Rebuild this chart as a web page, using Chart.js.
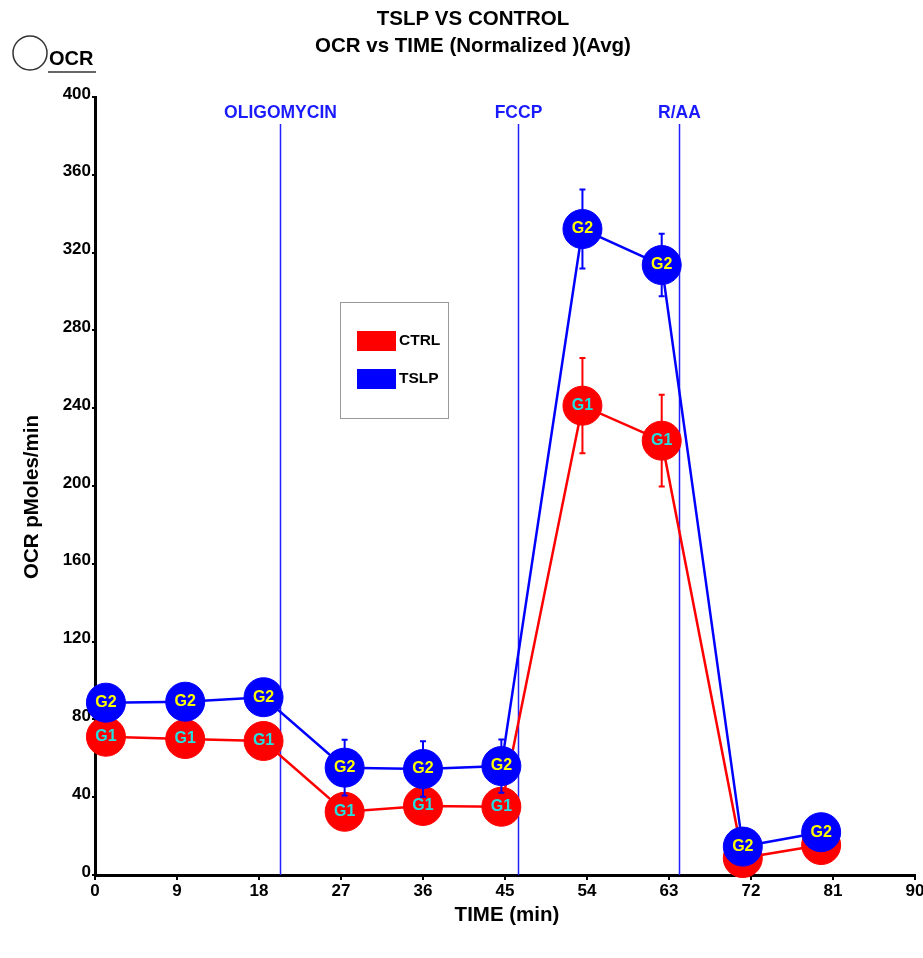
<!DOCTYPE html>
<html>
<head>
<meta charset="utf-8">
<script src="https://cdn.jsdelivr.net/npm/chart.js@4"></script>
<style>
  html, body { margin: 0; padding: 0; background: #fff; }
  #wrap { width: 923px; height: 958px; position: relative; }
</style>
</head>
<body>
<div id="wrap"><canvas id="ocrChart"></canvas></div>
<script>
// measurement times (min)
const times = [1.2, 9.9, 18.5, 27.4, 36.0, 44.6, 53.5, 62.2, 71.1, 79.7];
// OCR (pMoles/min), normalized averages
const ctrlOcr = [71.1, 69.9, 68.9, 32.5, 35.5, 35.1, 241.3, 223.3, 8.7, 15.4];
const tslpOcr = [88.6, 89.1, 91.4, 55.2, 54.5, 56.0, 332.1, 313.6, 14.6, 22.0];
const ctrlErr = [3, 3, 3, 4, 4, 4, 24.5, 23.6, 3, 3];
const tslpErr = [3, 3, 3, 14.3, 14.3, 13.7, 20.3, 16.1, 3, 3];

const seriesNames = ["CTRL", "TSLP"];
const groupTags = ["G1", "G2"];

// injections
const injectionNames = ["OLIGOMYCIN", "FCCP", "R/AA"];
const injectionTimes = [20.3, 46.4, 64.1];

const xTicks = [0, 9, 18, 27, 36, 45, 54, 63, 72, 81, 90];
const yTicks = [0, 40, 80, 120, 160, 200, 240, 280, 320, 360, 400];

const FONT = "'Liberation Sans', Arial, sans-serif";
const RED = "#ff0000";
const BLUE = "#0000ff";

function toPoints(ys) {
  return times.map((t, i) => ({ x: t, y: ys[i] }));
}

const errors = [ctrlErr, tslpErr];
const tagColors = ["#22e0e0", "#ffff00"];

const decorPlugin = {
  id: "decor",
  beforeDatasetsDraw(chart) {
    const ctx = chart.ctx;
    const xs = chart.scales.x;
    const area = chart.chartArea;
    ctx.save();
    ctx.strokeStyle = "#2222ff";
    ctx.lineWidth = 1.5;
    ctx.fillStyle = "#1a1aff";
    ctx.font = "bold 17.5px " + FONT;
    ctx.textAlign = "center";
    ctx.textBaseline = "middle";
    injectionTimes.forEach((t, i) => {
      const px = Math.round(xs.getPixelForValue(t)) + 0.5;
      ctx.beginPath();
      ctx.moveTo(px, 124);
      ctx.lineTo(px, area.bottom);
      ctx.stroke();
      ctx.fillText(injectionNames[i], px, 113);
    });
    ctx.restore();
  },
  beforeDatasetDraw(chart, args) {
    const ctx = chart.ctx;
    const ys = chart.scales.y;
    const ds = chart.data.datasets[args.index];
    const err = errors[args.index];
    const meta = chart.getDatasetMeta(args.index);
    ctx.save();
    ctx.strokeStyle = ds.borderColor;
    ctx.lineWidth = 2;
    meta.data.forEach((pt, i) => {
      const v = ds.data[i].y;
      const top = ys.getPixelForValue(v + err[i]);
      const bot = ys.getPixelForValue(v - err[i]);
      ctx.beginPath();
      ctx.moveTo(pt.x, top);
      ctx.lineTo(pt.x, bot);
      ctx.moveTo(pt.x - 3, top);
      ctx.lineTo(pt.x + 3, top);
      ctx.moveTo(pt.x - 3, bot);
      ctx.lineTo(pt.x + 3, bot);
      ctx.stroke();
    });
    ctx.restore();
  },
  afterDatasetDraw(chart, args) {
    const ctx = chart.ctx;
    const meta = chart.getDatasetMeta(args.index);
    ctx.save();
    ctx.fillStyle = tagColors[args.index];
    ctx.font = "bold 16px " + FONT;
    ctx.textAlign = "center";
    ctx.textBaseline = "middle";
    meta.data.forEach(pt => {
      ctx.fillText(groupTags[args.index], pt.x, pt.y);
    });
    ctx.restore();
  },
  afterDraw(chart) {
    const ctx = chart.ctx;
    ctx.save();
    ctx.fillStyle = "#000";
    ctx.textAlign = "center";
    ctx.textBaseline = "middle";
    ctx.font = "bold 20.5px " + FONT;
    ctx.fillText("TSLP VS CONTROL", 473, 19);
    ctx.fillText("OCR vs TIME (Normalized )(Avg)", 473, 46);
    ctx.fillText("TIME (min)", 507, 915);

    ctx.save();
    ctx.translate(32, 497);
    ctx.rotate(-Math.PI / 2);
    ctx.fillText("OCR pMoles/min", 0, 0);
    ctx.restore();

    // OCR badge
    ctx.strokeStyle = "#333";
    ctx.lineWidth = 1.5;
    ctx.beginPath();
    ctx.arc(30, 53, 17, 0, Math.PI * 2);
    ctx.stroke();
    ctx.textAlign = "left";
    ctx.font = "bold 20px " + FONT;
    ctx.fillText("OCR", 49, 59);
    ctx.lineWidth = 1.5;
    ctx.beginPath();
    ctx.moveTo(48, 72);
    ctx.lineTo(96, 72);
    ctx.stroke();

    // legend
    ctx.strokeStyle = "#999";
    ctx.lineWidth = 1;
    ctx.strokeRect(340.5, 302.5, 108, 116);
    ctx.font = "bold 15.5px " + FONT;
    const swatchY = [331, 369];
    chart.data.datasets.forEach((ds, i) => {
      ctx.fillStyle = ds.borderColor;
      ctx.fillRect(357, swatchY[i], 39, 20);
      ctx.fillStyle = "#000";
      ctx.fillText(ds.label, 399, swatchY[i] + 10);
    });
    ctx.restore();
  }
};

new Chart(document.getElementById("ocrChart"), {
  type: "line",
  data: {
    datasets: [
      {
        label: seriesNames[0],
        data: toPoints(ctrlOcr),
        borderColor: RED,
        backgroundColor: RED,
        pointBackgroundColor: RED,
        pointBorderColor: RED,
        borderWidth: 2.5,
        pointBorderWidth: 1,
        pointRadius: 19.5,
        pointHoverRadius: 19.5,
        clip: false,
        order: 2,
      },
      {
        label: seriesNames[1],
        data: toPoints(tslpOcr),
        borderColor: BLUE,
        backgroundColor: BLUE,
        pointBackgroundColor: BLUE,
        pointBorderColor: BLUE,
        borderWidth: 2.5,
        pointBorderWidth: 1,
        pointRadius: 19.5,
        pointHoverRadius: 19.5,
        clip: false,
        order: 1,
      },
    ],
  },
  options: {
    responsive: true,
    maintainAspectRatio: false,
    animation: false,
    events: [],
    layout: { autoPadding: false, padding: { left: 0, top: 97, right: 8, bottom: 43 } },
    plugins: {
      legend: { display: false },
      title: { display: false },
      tooltip: { enabled: false },
    },
    scales: {
      x: {
        type: "linear",
        min: 0,
        max: 90,
        afterFit: s => { s.height = 40; s.paddingLeft = 0; s.paddingRight = 0; },
        afterBuildTicks: s => { s.ticks = xTicks.map(v => ({ value: v })); },
        grid: { drawOnChartArea: false, tickLength: 5, color: "#000", lineWidth: 2 },
        border: { display: true, color: "#000", width: 3 },
        ticks: {
          color: "#000",
          font: { family: FONT, size: 17, weight: "bold" },
          padding: 1,
          maxRotation: 0,
        },
      },
      y: {
        type: "linear",
        min: 0,
        max: 400,
        afterFit: s => { s.width = 95; s.paddingTop = 0; s.paddingBottom = 0; },
        afterBuildTicks: s => { s.ticks = yTicks.map(v => ({ value: v })); },
        grid: { drawOnChartArea: false, tickLength: 3, color: "#000", lineWidth: 2 },
        border: { display: true, color: "#000", width: 3 },
        ticks: {
          color: "#000",
          font: { family: FONT, size: 17, weight: "bold" },
          padding: 1,
          labelOffset: -3,
        },
      },
    },
  },
  plugins: [decorPlugin],
});
</script>
</body>
</html>
